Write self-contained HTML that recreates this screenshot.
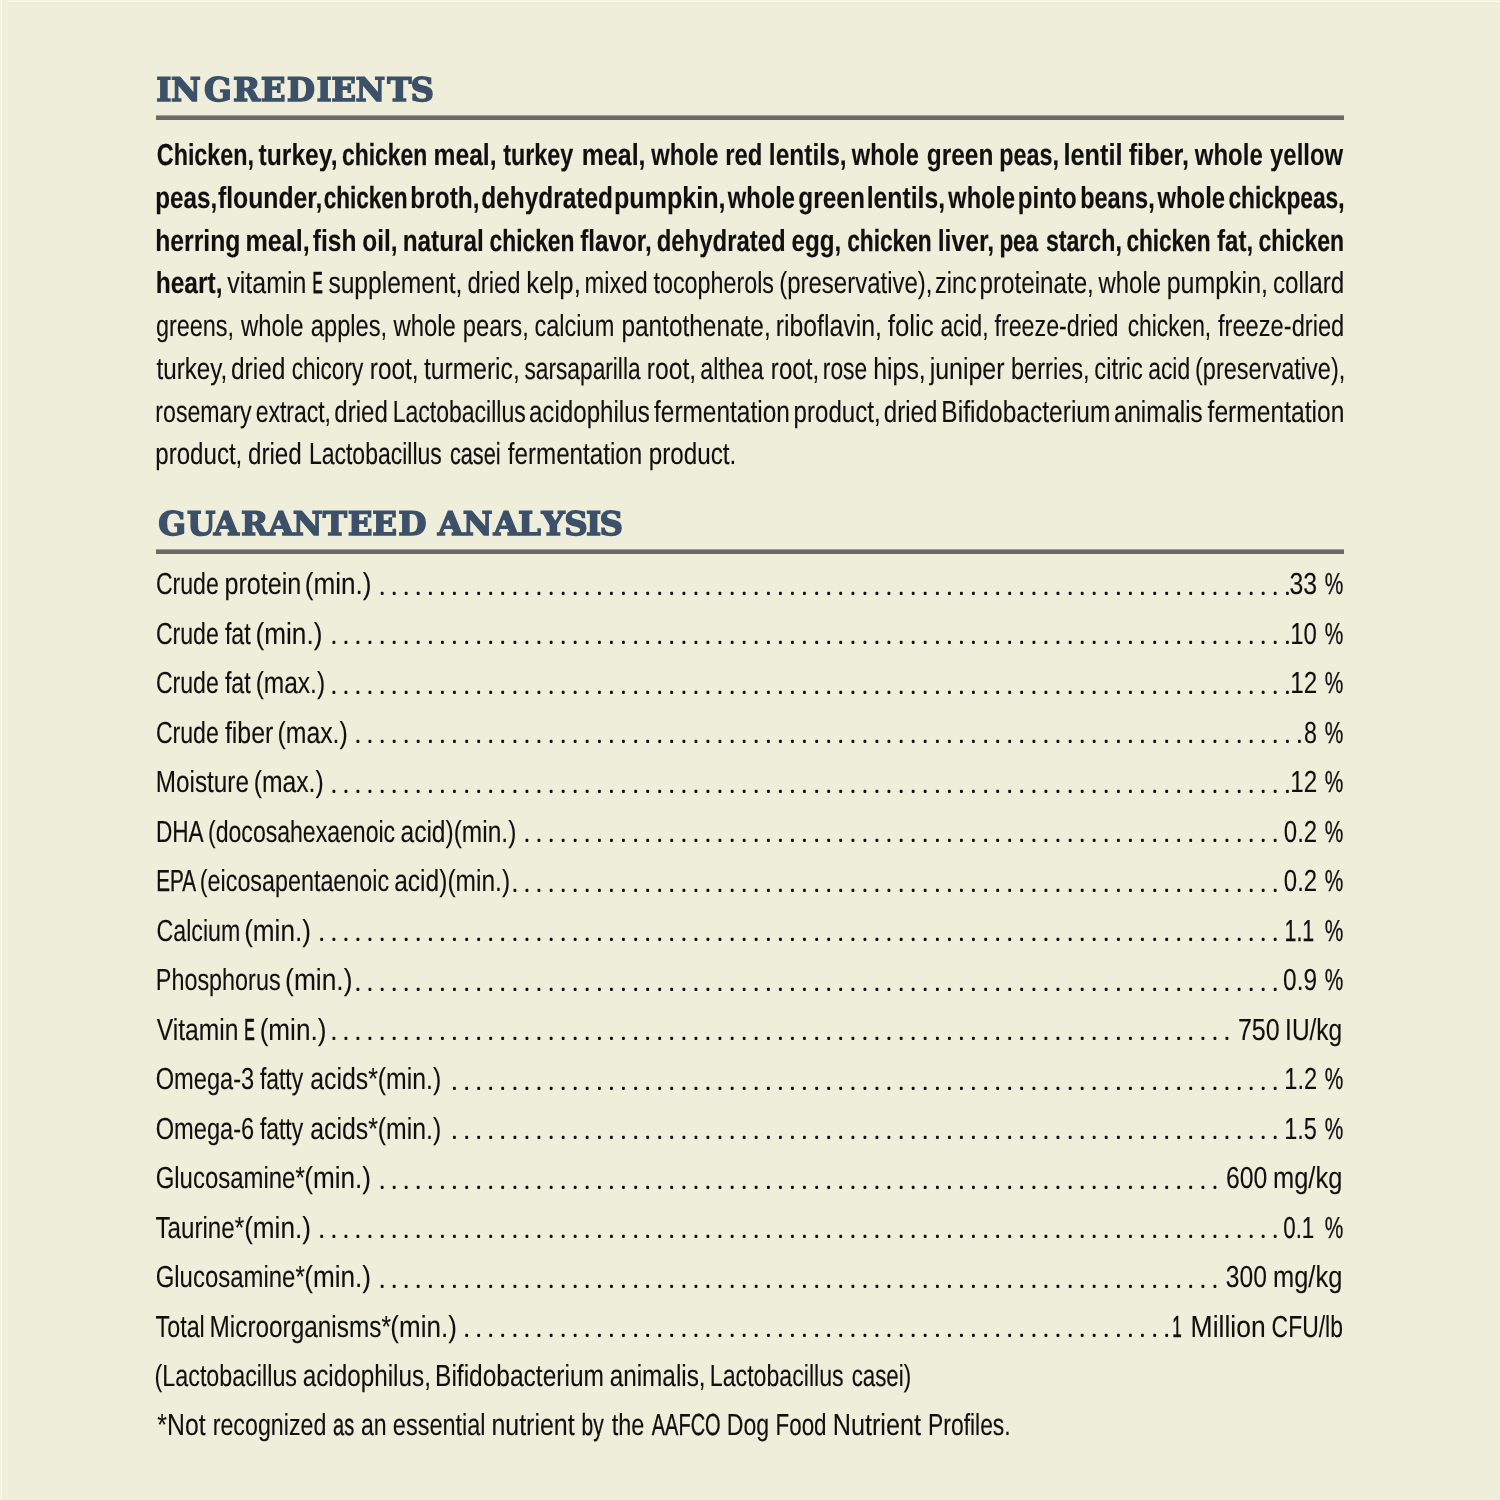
<!DOCTYPE html>
<html lang="en">
<head>
<meta charset="utf-8">
<title>Ingredients &amp; Guaranteed Analysis</title>
<style>
html,body{margin:0;padding:0;background:#efeeda;}
body{width:1500px;height:1500px;overflow:hidden;position:relative;}
svg{position:absolute;left:0;top:0;display:block;}
text{white-space:pre;stroke-linejoin:miter;text-rendering:geometricPrecision;}
.h{font-family:"DejaVu Serif","Liberation Serif",serif;font-weight:700;font-size:32.6px;fill:#3c5169;stroke:#3c5169;stroke-width:1.45px;}
.b{font-family:"Liberation Sans",sans-serif;font-weight:700;font-size:30.4px;fill:#101010;stroke:#101010;stroke-width:0.7px;}
.r{font-family:"Liberation Sans",sans-serif;font-weight:400;font-size:30.4px;fill:#101010;stroke:#101010;stroke-width:0.35px;}
.d{font-family:"Liberation Sans",sans-serif;font-weight:400;font-size:12.0px;fill:#101010;stroke:#101010;stroke-width:1.75px;stroke-linejoin:round;}
</style>
</head>
<body>
<svg width="1500" height="1500" viewBox="0 0 1500 1500">
<rect x="0" y="0" width="1500" height="1500" fill="#efeeda"/>
<rect x="0" y="0" width="1500" height="1" fill="#f2f1de"/><rect x="0" y="1" width="1500" height="1" fill="#fcfbe6"/><rect x="0" y="3" width="1500" height="1" fill="#ebead6"/><rect x="0" y="4" width="1500" height="3" fill="#f1f0dc"/>
<rect x="0" y="0" width="1" height="1500" fill="#f3f2df"/><rect x="1" y="0" width="1" height="1500" fill="#fcfbe6"/><rect x="3" y="0" width="1" height="1500" fill="#ebead6"/><rect x="4" y="0" width="4" height="1500" fill="#f1f0dd"/>
<rect x="156" y="115.4" width="1188" height="4.6" fill="#6b6969"/>
<rect x="156" y="549.4" width="1188" height="4.6" fill="#6b6969"/>
<text class="h" transform="scale(1.0,1)" y="101.10" x="156.36 171.04 203.88 232.99 260.85 286.79 316.56 331.25 355.44 387.25 410.53">INGREDIENTS</text>
<text class="b" y="165.30"><tspan x="156.84" textLength="97.12" lengthAdjust="spacingAndGlyphs" stroke-width="0.20">Chicken,</tspan> <tspan x="258.56" textLength="78.93" lengthAdjust="spacingAndGlyphs" stroke-width="0.12">turkey,</tspan> <tspan x="341.93" textLength="85.47" lengthAdjust="spacingAndGlyphs" stroke-width="0.25">chicken</tspan> <tspan x="433.53" textLength="63.06" lengthAdjust="spacingAndGlyphs" stroke-width="0.12">meal,</tspan> <tspan x="503.21" textLength="70.02" lengthAdjust="spacingAndGlyphs" stroke-width="0.19">turkey</tspan> <tspan x="581.71" textLength="63.79" lengthAdjust="spacingAndGlyphs" stroke-width="0.12">meal,</tspan> <tspan x="651.24" textLength="67.21" lengthAdjust="spacingAndGlyphs" stroke-width="0.14">whole</tspan> <tspan x="725.29" textLength="37.13" lengthAdjust="spacingAndGlyphs" stroke-width="0.12">red</tspan> <tspan x="768.84" textLength="77.84" lengthAdjust="spacingAndGlyphs" stroke-width="0.12">lentils,</tspan> <tspan x="851.84" textLength="66.99" lengthAdjust="spacingAndGlyphs" stroke-width="0.15">whole</tspan> <tspan x="926.76" textLength="66.60" lengthAdjust="spacingAndGlyphs" stroke-width="0.12">green</tspan> <tspan x="999.26" textLength="59.71" lengthAdjust="spacingAndGlyphs" stroke-width="0.19">peas,</tspan> <tspan x="1063.49" textLength="59.15" lengthAdjust="spacingAndGlyphs" stroke-width="0.12">lentil</tspan> <tspan x="1128.73" textLength="60.30" lengthAdjust="spacingAndGlyphs" stroke-width="0.12">fiber,</tspan> <tspan x="1194.83" textLength="67.93" lengthAdjust="spacingAndGlyphs" stroke-width="0.12">whole</tspan> <tspan x="1270.07" textLength="73.02" lengthAdjust="spacingAndGlyphs" stroke-width="0.12">yellow</tspan></text>
<text class="b" y="208.01"><tspan x="155.26" textLength="61.90" lengthAdjust="spacingAndGlyphs" stroke-width="0.12">peas,</tspan> <tspan x="217.94" textLength="104.46" lengthAdjust="spacingAndGlyphs" stroke-width="0.12">flounder,</tspan> <tspan x="323.67" textLength="83.97" lengthAdjust="spacingAndGlyphs" stroke-width="0.31">chicken</tspan> <tspan x="410.35" textLength="69.23" lengthAdjust="spacingAndGlyphs" stroke-width="0.12">broth,</tspan> <tspan x="481.16" textLength="131.80" lengthAdjust="spacingAndGlyphs" stroke-width="0.12">dehydrated</tspan> <tspan x="613.90" textLength="111.72" lengthAdjust="spacingAndGlyphs" stroke-width="0.12">pumpkin,</tspan> <tspan x="727.73" textLength="67.31" lengthAdjust="spacingAndGlyphs" stroke-width="0.13">whole</tspan> <tspan x="798.26" textLength="66.60" lengthAdjust="spacingAndGlyphs" stroke-width="0.12">green</tspan> <tspan x="866.73" textLength="78.36" lengthAdjust="spacingAndGlyphs" stroke-width="0.12">lentils,</tspan> <tspan x="948.35" textLength="66.67" lengthAdjust="spacingAndGlyphs" stroke-width="0.16">whole</tspan> <tspan x="1017.77" textLength="58.91" lengthAdjust="spacingAndGlyphs" stroke-width="0.12">pinto</tspan> <tspan x="1080.13" textLength="74.56" lengthAdjust="spacingAndGlyphs" stroke-width="0.16">beans,</tspan> <tspan x="1157.43" textLength="67.63" lengthAdjust="spacingAndGlyphs" stroke-width="0.12">whole</tspan> <tspan x="1228.45" textLength="116.12" lengthAdjust="spacingAndGlyphs" stroke-width="0.28">chickpeas,</tspan></text>
<text class="b" y="250.72"><tspan x="155.13" textLength="85.27" lengthAdjust="spacingAndGlyphs" stroke-width="0.12">herring</tspan> <tspan x="245.40" textLength="64.22" lengthAdjust="spacingAndGlyphs" stroke-width="0.12">meal,</tspan> <tspan x="312.84" textLength="43.62" lengthAdjust="spacingAndGlyphs" stroke-width="0.12">fish</tspan> <tspan x="362.31" textLength="35.27" lengthAdjust="spacingAndGlyphs" stroke-width="0.12">oil,</tspan> <tspan x="402.66" textLength="81.11" lengthAdjust="spacingAndGlyphs" stroke-width="0.12">natural</tspan> <tspan x="489.54" textLength="84.94" lengthAdjust="spacingAndGlyphs" stroke-width="0.27">chicken</tspan> <tspan x="580.14" textLength="71.62" lengthAdjust="spacingAndGlyphs" stroke-width="0.12">flavor,</tspan> <tspan x="656.68" textLength="129.04" lengthAdjust="spacingAndGlyphs" stroke-width="0.12">dehydrated</tspan> <tspan x="791.51" textLength="49.74" lengthAdjust="spacingAndGlyphs" stroke-width="0.12">egg,</tspan> <tspan x="847.16" textLength="84.51" lengthAdjust="spacingAndGlyphs" stroke-width="0.29">chicken</tspan> <tspan x="937.73" textLength="56.36" lengthAdjust="spacingAndGlyphs" stroke-width="0.12">liver,</tspan> <tspan x="999.38" textLength="38.72" lengthAdjust="spacingAndGlyphs" stroke-width="0.32">pea</tspan> <tspan x="1045.89" textLength="75.95" lengthAdjust="spacingAndGlyphs" stroke-width="0.22">starch,</tspan> <tspan x="1126.47" textLength="83.97" lengthAdjust="spacingAndGlyphs" stroke-width="0.31">chicken</tspan> <tspan x="1217.05" textLength="36.10" lengthAdjust="spacingAndGlyphs" stroke-width="0.12">fat,</tspan> <tspan x="1258.52" textLength="85.58" lengthAdjust="spacingAndGlyphs" stroke-width="0.24">chicken</tspan></text>
<text class="b" y="293.43"><tspan x="155.64" textLength="66.94" lengthAdjust="spacingAndGlyphs" stroke-width="0.12">heart,</tspan></text>
<text class="r" y="293.43"><tspan x="227.37" textLength="78.99" lengthAdjust="spacingAndGlyphs" stroke-width="0.12">vitamin</tspan> <tspan x="312.61" textLength="10.28" lengthAdjust="spacingAndGlyphs" stroke-width="0.75">E</tspan> <tspan x="328.38" textLength="133.97" lengthAdjust="spacingAndGlyphs" stroke-width="0.12">supplement,</tspan> <tspan x="467.46" textLength="53.02" lengthAdjust="spacingAndGlyphs" stroke-width="0.12">dried</tspan> <tspan x="526.32" textLength="54.54" lengthAdjust="spacingAndGlyphs" stroke-width="0.12">kelp,</tspan> <tspan x="584.49" textLength="63.08" lengthAdjust="spacingAndGlyphs" stroke-width="0.12">mixed</tspan> <tspan x="653.51" textLength="120.48" lengthAdjust="spacingAndGlyphs" stroke-width="0.12">tocopherols</tspan> <tspan x="779.17" textLength="153.32" lengthAdjust="spacingAndGlyphs" stroke-width="0.12">(preservative),</tspan> <tspan x="935.01" textLength="41.65" lengthAdjust="spacingAndGlyphs" stroke-width="0.12">zinc</tspan> <tspan x="979.50" textLength="114.31" lengthAdjust="spacingAndGlyphs" stroke-width="0.12">proteinate,</tspan> <tspan x="1098.59" textLength="62.41" lengthAdjust="spacingAndGlyphs" stroke-width="0.12">whole</tspan> <tspan x="1166.65" textLength="101.33" lengthAdjust="spacingAndGlyphs" stroke-width="0.12">pumpkin,</tspan> <tspan x="1273.03" textLength="71.27" lengthAdjust="spacingAndGlyphs" stroke-width="0.12">collard</tspan></text>
<text class="r" y="336.14"><tspan x="155.88" textLength="78.17" lengthAdjust="spacingAndGlyphs" stroke-width="0.12">greens,</tspan> <tspan x="241.09" textLength="62.41" lengthAdjust="spacingAndGlyphs" stroke-width="0.12">whole</tspan> <tspan x="310.85" textLength="76.31" lengthAdjust="spacingAndGlyphs" stroke-width="0.12">apples,</tspan> <tspan x="393.39" textLength="62.41" lengthAdjust="spacingAndGlyphs" stroke-width="0.12">whole</tspan> <tspan x="462.83" textLength="65.94" lengthAdjust="spacingAndGlyphs" stroke-width="0.12">pears,</tspan> <tspan x="534.46" textLength="79.83" lengthAdjust="spacingAndGlyphs" stroke-width="0.12">calcium</tspan> <tspan x="621.39" textLength="149.35" lengthAdjust="spacingAndGlyphs" stroke-width="0.12">pantothenate,</tspan> <tspan x="775.71" textLength="106.26" lengthAdjust="spacingAndGlyphs" stroke-width="0.12">riboflavin,</tspan> <tspan x="887.69" textLength="46.03" lengthAdjust="spacingAndGlyphs" stroke-width="0.12">folic</tspan> <tspan x="940.41" textLength="48.05" lengthAdjust="spacingAndGlyphs" stroke-width="0.16">acid,</tspan> <tspan x="994.43" textLength="124.11" lengthAdjust="spacingAndGlyphs" stroke-width="0.12">freeze-dried</tspan> <tspan x="1127.71" textLength="83.45" lengthAdjust="spacingAndGlyphs" stroke-width="0.16">chicken,</tspan> <tspan x="1218.02" textLength="126.24" lengthAdjust="spacingAndGlyphs" stroke-width="0.12">freeze-dried</tspan></text>
<text class="r" y="378.85"><tspan x="156.49" textLength="70.82" lengthAdjust="spacingAndGlyphs" stroke-width="0.12">turkey,</tspan> <tspan x="231.03" textLength="54.38" lengthAdjust="spacingAndGlyphs" stroke-width="0.12">dried</tspan> <tspan x="291.83" textLength="71.32" lengthAdjust="spacingAndGlyphs" stroke-width="0.18">chicory</tspan> <tspan x="369.84" textLength="48.79" lengthAdjust="spacingAndGlyphs" stroke-width="0.12">root,</tspan> <tspan x="423.89" textLength="95.87" lengthAdjust="spacingAndGlyphs" stroke-width="0.12">turmeric,</tspan> <tspan x="524.45" textLength="116.17" lengthAdjust="spacingAndGlyphs" stroke-width="0.16">sarsaparilla</tspan> <tspan x="646.72" textLength="49.44" lengthAdjust="spacingAndGlyphs" stroke-width="0.12">root,</tspan> <tspan x="700.37" textLength="63.26" lengthAdjust="spacingAndGlyphs" stroke-width="0.12">althea</tspan> <tspan x="770.86" textLength="48.25" lengthAdjust="spacingAndGlyphs" stroke-width="0.12">root,</tspan> <tspan x="822.87" textLength="44.26" lengthAdjust="spacingAndGlyphs" stroke-width="0.16">rose</tspan> <tspan x="873.23" textLength="52.54" lengthAdjust="spacingAndGlyphs" stroke-width="0.12">hips,</tspan> <tspan x="929.67" textLength="74.89" lengthAdjust="spacingAndGlyphs" stroke-width="0.12">juniper</tspan> <tspan x="1010.94" textLength="78.72" lengthAdjust="spacingAndGlyphs" stroke-width="0.12">berries,</tspan> <tspan x="1094.36" textLength="48.51" lengthAdjust="spacingAndGlyphs" stroke-width="0.12">citric</tspan> <tspan x="1148.21" textLength="41.89" lengthAdjust="spacingAndGlyphs" stroke-width="0.15">acid</tspan> <tspan x="1195.00" textLength="150.25" lengthAdjust="spacingAndGlyphs" stroke-width="0.12">(preservative),</tspan></text>
<text class="r" y="421.56"><tspan x="155.33" textLength="96.35" lengthAdjust="spacingAndGlyphs" stroke-width="0.13">rosemary</tspan> <tspan x="255.70" textLength="75.30" lengthAdjust="spacingAndGlyphs" stroke-width="0.14">extract,</tspan> <tspan x="334.35" textLength="53.54" lengthAdjust="spacingAndGlyphs" stroke-width="0.12">dried</tspan> <tspan x="392.78" textLength="132.98" lengthAdjust="spacingAndGlyphs" stroke-width="0.14">Lactobacillus</tspan> <tspan x="528.93" textLength="120.78" lengthAdjust="spacingAndGlyphs" stroke-width="0.12">acidophilus</tspan> <tspan x="654.01" textLength="135.81" lengthAdjust="spacingAndGlyphs" stroke-width="0.12">fermentation</tspan> <tspan x="793.61" textLength="87.00" lengthAdjust="spacingAndGlyphs" stroke-width="0.12">product,</tspan> <tspan x="883.85" textLength="53.54" lengthAdjust="spacingAndGlyphs" stroke-width="0.12">dried</tspan> <tspan x="941.35" textLength="169.11" lengthAdjust="spacingAndGlyphs" stroke-width="0.12">Bifidobacterium</tspan> <tspan x="1113.93" textLength="88.78" lengthAdjust="spacingAndGlyphs" stroke-width="0.12">animalis</tspan> <tspan x="1207.61" textLength="136.73" lengthAdjust="spacingAndGlyphs" stroke-width="0.12">fermentation</tspan></text>
<text class="r" y="464.27"><tspan x="155.31" textLength="87.00" lengthAdjust="spacingAndGlyphs" stroke-width="0.12">product,</tspan> <tspan x="247.94" textLength="53.86" lengthAdjust="spacingAndGlyphs" stroke-width="0.12">dried</tspan> <tspan x="308.88" textLength="132.98" lengthAdjust="spacingAndGlyphs" stroke-width="0.14">Lactobacillus</tspan> <tspan x="449.90" textLength="50.74" lengthAdjust="spacingAndGlyphs" stroke-width="0.25">casei</tspan> <tspan x="507.82" textLength="134.39" lengthAdjust="spacingAndGlyphs" stroke-width="0.12">fermentation</tspan> <tspan x="648.70" textLength="87.56" lengthAdjust="spacingAndGlyphs" stroke-width="0.12">product.</tspan></text>
<text class="h" transform="scale(1.0,1)" y="535.30" x="158.28 186.99 213.70 240.99 268.30 292.64 322.85 347.65 372.25 398.19">GUARANTEED</text>
<text class="h" transform="scale(1.0,1)" y="535.30" x="437.70 462.64 493.50 517.93 541.56 564.33 585.96 599.53">ANALYSIS</text>
<text class="r" y="594.15"><tspan x="155.89" textLength="62.86" lengthAdjust="spacingAndGlyphs" stroke-width="0.13">Crude</tspan> <tspan x="224.44" textLength="76.94" lengthAdjust="spacingAndGlyphs" stroke-width="0.12">protein</tspan> <tspan x="304.74" textLength="66.82" lengthAdjust="spacingAndGlyphs" stroke-width="0.12">(min.)</tspan> <tspan x="1289.41" textLength="27.62" lengthAdjust="spacingAndGlyphs" stroke-width="0.12">33</tspan> <tspan x="1324.71" textLength="18.57" lengthAdjust="spacingAndGlyphs" stroke-width="0.32">%</tspan></text>
<text class="d" x="380.41 392.48 404.55 416.62 428.69 440.76 452.83 464.90 476.97 489.04 501.11 513.18 525.25 537.32 549.39 561.46 573.53 585.60 597.67 609.74 621.81 633.88 645.95 658.02 670.09 682.16 694.23 706.30 718.37 730.44 742.51 754.58 766.65 778.72 790.79 802.86 814.93 827.00 839.07 851.14 863.21 875.28 887.35 899.42 911.49 923.56 935.63 947.70 959.77 971.84 983.91 995.98 1008.05 1020.12 1032.19 1044.26 1056.33 1068.40 1080.47 1092.54 1104.61 1116.68 1128.75 1140.82 1152.89 1164.96 1177.03 1189.10 1201.17 1213.24 1225.31 1237.38 1249.45 1261.52 1273.59 1285.66" y="594.00">............................................................................</text>
<text class="r" y="643.64"><tspan x="155.89" textLength="62.86" lengthAdjust="spacingAndGlyphs" stroke-width="0.13">Crude</tspan> <tspan x="224.93" textLength="25.77" lengthAdjust="spacingAndGlyphs" stroke-width="0.13">fat</tspan> <tspan x="255.54" textLength="66.82" lengthAdjust="spacingAndGlyphs" stroke-width="0.12">(min.)</tspan> <tspan x="1290.24" textLength="26.64" lengthAdjust="spacingAndGlyphs" stroke-width="0.12">10</tspan> <tspan x="1324.71" textLength="18.57" lengthAdjust="spacingAndGlyphs" stroke-width="0.32">%</tspan></text>
<text class="d" x="332.13 344.20 356.27 368.34 380.41 392.48 404.55 416.62 428.69 440.76 452.83 464.90 476.97 489.04 501.11 513.18 525.25 537.32 549.39 561.46 573.53 585.60 597.67 609.74 621.81 633.88 645.95 658.02 670.09 682.16 694.23 706.30 718.37 730.44 742.51 754.58 766.65 778.72 790.79 802.86 814.93 827.00 839.07 851.14 863.21 875.28 887.35 899.42 911.49 923.56 935.63 947.70 959.77 971.84 983.91 995.98 1008.05 1020.12 1032.19 1044.26 1056.33 1068.40 1080.47 1092.54 1104.61 1116.68 1128.75 1140.82 1152.89 1164.96 1177.03 1189.10 1201.17 1213.24 1225.31 1237.38 1249.45 1261.52 1273.59 1285.66" y="643.49">................................................................................</text>
<text class="r" y="693.13"><tspan x="155.89" textLength="62.86" lengthAdjust="spacingAndGlyphs" stroke-width="0.13">Crude</tspan> <tspan x="224.93" textLength="25.77" lengthAdjust="spacingAndGlyphs" stroke-width="0.13">fat</tspan> <tspan x="255.64" textLength="69.42" lengthAdjust="spacingAndGlyphs" stroke-width="0.12">(max.)</tspan> <tspan x="1290.21" textLength="26.94" lengthAdjust="spacingAndGlyphs" stroke-width="0.12">12</tspan> <tspan x="1324.71" textLength="18.57" lengthAdjust="spacingAndGlyphs" stroke-width="0.32">%</tspan></text>
<text class="d" x="332.13 344.20 356.27 368.34 380.41 392.48 404.55 416.62 428.69 440.76 452.83 464.90 476.97 489.04 501.11 513.18 525.25 537.32 549.39 561.46 573.53 585.60 597.67 609.74 621.81 633.88 645.95 658.02 670.09 682.16 694.23 706.30 718.37 730.44 742.51 754.58 766.65 778.72 790.79 802.86 814.93 827.00 839.07 851.14 863.21 875.28 887.35 899.42 911.49 923.56 935.63 947.70 959.77 971.84 983.91 995.98 1008.05 1020.12 1032.19 1044.26 1056.33 1068.40 1080.47 1092.54 1104.61 1116.68 1128.75 1140.82 1152.89 1164.96 1177.03 1189.10 1201.17 1213.24 1225.31 1237.38 1249.45 1261.52 1273.59 1285.66" y="692.98">................................................................................</text>
<text class="r" y="742.62"><tspan x="155.89" textLength="62.86" lengthAdjust="spacingAndGlyphs" stroke-width="0.13">Crude</tspan> <tspan x="224.91" textLength="48.45" lengthAdjust="spacingAndGlyphs" stroke-width="0.12">fiber</tspan> <tspan x="277.52" textLength="70.26" lengthAdjust="spacingAndGlyphs" stroke-width="0.12">(max.)</tspan> <tspan x="1304.06" textLength="12.89" lengthAdjust="spacingAndGlyphs" stroke-width="0.13">8</tspan> <tspan x="1324.71" textLength="18.57" lengthAdjust="spacingAndGlyphs" stroke-width="0.32">%</tspan></text>
<text class="d" x="356.27 368.34 380.41 392.48 404.55 416.62 428.69 440.76 452.83 464.90 476.97 489.04 501.11 513.18 525.25 537.32 549.39 561.46 573.53 585.60 597.67 609.74 621.81 633.88 645.95 658.02 670.09 682.16 694.23 706.30 718.37 730.44 742.51 754.58 766.65 778.72 790.79 802.86 814.93 827.00 839.07 851.14 863.21 875.28 887.35 899.42 911.49 923.56 935.63 947.70 959.77 971.84 983.91 995.98 1008.05 1020.12 1032.19 1044.26 1056.33 1068.40 1080.47 1092.54 1104.61 1116.68 1128.75 1140.82 1152.89 1164.96 1177.03 1189.10 1201.17 1213.24 1225.31 1237.38 1249.45 1261.52 1273.59 1285.66 1297.73" y="742.47">...............................................................................</text>
<text class="r" y="792.11"><tspan x="155.77" textLength="93.15" lengthAdjust="spacingAndGlyphs" stroke-width="0.12">Moisture</tspan> <tspan x="253.73" textLength="69.94" lengthAdjust="spacingAndGlyphs" stroke-width="0.12">(max.)</tspan> <tspan x="1290.21" textLength="26.94" lengthAdjust="spacingAndGlyphs" stroke-width="0.12">12</tspan> <tspan x="1324.71" textLength="18.57" lengthAdjust="spacingAndGlyphs" stroke-width="0.32">%</tspan></text>
<text class="d" x="332.13 344.20 356.27 368.34 380.41 392.48 404.55 416.62 428.69 440.76 452.83 464.90 476.97 489.04 501.11 513.18 525.25 537.32 549.39 561.46 573.53 585.60 597.67 609.74 621.81 633.88 645.95 658.02 670.09 682.16 694.23 706.30 718.37 730.44 742.51 754.58 766.65 778.72 790.79 802.86 814.93 827.00 839.07 851.14 863.21 875.28 887.35 899.42 911.49 923.56 935.63 947.70 959.77 971.84 983.91 995.98 1008.05 1020.12 1032.19 1044.26 1056.33 1068.40 1080.47 1092.54 1104.61 1116.68 1128.75 1140.82 1152.89 1164.96 1177.03 1189.10 1201.17 1213.24 1225.31 1237.38 1249.45 1261.52 1273.59 1285.66" y="791.96">................................................................................</text>
<text class="r" y="841.60"><tspan x="156.01" textLength="46.42" lengthAdjust="spacingAndGlyphs" stroke-width="0.22">DHA</tspan> <tspan x="208.04" textLength="187.10" lengthAdjust="spacingAndGlyphs" stroke-width="0.14">(docosahexaenoic</tspan> <tspan x="400.52" textLength="115.84" lengthAdjust="spacingAndGlyphs" stroke-width="0.12">acid)(min.)</tspan> <tspan x="1283.82" textLength="33.32" lengthAdjust="spacingAndGlyphs" stroke-width="0.12">0.2</tspan> <tspan x="1324.71" textLength="18.57" lengthAdjust="spacingAndGlyphs" stroke-width="0.32">%</tspan></text>
<text class="d" x="525.25 537.32 549.39 561.46 573.53 585.60 597.67 609.74 621.81 633.88 645.95 658.02 670.09 682.16 694.23 706.30 718.37 730.44 742.51 754.58 766.65 778.72 790.79 802.86 814.93 827.00 839.07 851.14 863.21 875.28 887.35 899.42 911.49 923.56 935.63 947.70 959.77 971.84 983.91 995.98 1008.05 1020.12 1032.19 1044.26 1056.33 1068.40 1080.47 1092.54 1104.61 1116.68 1128.75 1140.82 1152.89 1164.96 1177.03 1189.10 1201.17 1213.24 1225.31 1237.38 1249.45 1261.52 1273.59" y="841.45">...............................................................</text>
<text class="r" y="891.09"><tspan x="156.24" textLength="38.71" lengthAdjust="spacingAndGlyphs" stroke-width="0.38">EPA</tspan> <tspan x="199.81" textLength="189.34" lengthAdjust="spacingAndGlyphs" stroke-width="0.12">(eicosapentaenoic</tspan> <tspan x="394.22" textLength="115.84" lengthAdjust="spacingAndGlyphs" stroke-width="0.12">acid)(min.)</tspan> <tspan x="1283.82" textLength="33.32" lengthAdjust="spacingAndGlyphs" stroke-width="0.12">0.2</tspan> <tspan x="1324.71" textLength="18.57" lengthAdjust="spacingAndGlyphs" stroke-width="0.32">%</tspan></text>
<text class="d" x="513.18 525.25 537.32 549.39 561.46 573.53 585.60 597.67 609.74 621.81 633.88 645.95 658.02 670.09 682.16 694.23 706.30 718.37 730.44 742.51 754.58 766.65 778.72 790.79 802.86 814.93 827.00 839.07 851.14 863.21 875.28 887.35 899.42 911.49 923.56 935.63 947.70 959.77 971.84 983.91 995.98 1008.05 1020.12 1032.19 1044.26 1056.33 1068.40 1080.47 1092.54 1104.61 1116.68 1128.75 1140.82 1152.89 1164.96 1177.03 1189.10 1201.17 1213.24 1225.31 1237.38 1249.45 1261.52 1273.59" y="890.94">................................................................</text>
<text class="r" y="940.58"><tspan x="156.59" textLength="83.68" lengthAdjust="spacingAndGlyphs" stroke-width="0.13">Calcium</tspan> <tspan x="244.14" textLength="66.82" lengthAdjust="spacingAndGlyphs" stroke-width="0.12">(min.)</tspan> <tspan x="1284.51" textLength="29.69" lengthAdjust="spacingAndGlyphs" stroke-width="0.28">1.1</tspan> <tspan x="1324.71" textLength="18.57" lengthAdjust="spacingAndGlyphs" stroke-width="0.32">%</tspan></text>
<text class="d" x="320.06 332.13 344.20 356.27 368.34 380.41 392.48 404.55 416.62 428.69 440.76 452.83 464.90 476.97 489.04 501.11 513.18 525.25 537.32 549.39 561.46 573.53 585.60 597.67 609.74 621.81 633.88 645.95 658.02 670.09 682.16 694.23 706.30 718.37 730.44 742.51 754.58 766.65 778.72 790.79 802.86 814.93 827.00 839.07 851.14 863.21 875.28 887.35 899.42 911.49 923.56 935.63 947.70 959.77 971.84 983.91 995.98 1008.05 1020.12 1032.19 1044.26 1056.33 1068.40 1080.47 1092.54 1104.61 1116.68 1128.75 1140.82 1152.89 1164.96 1177.03 1189.10 1201.17 1213.24 1225.31 1237.38 1249.45 1261.52 1273.59" y="940.43">................................................................................</text>
<text class="r" y="990.07"><tspan x="155.84" textLength="124.74" lengthAdjust="spacingAndGlyphs" stroke-width="0.12">Phosphorus</tspan> <tspan x="285.12" textLength="67.35" lengthAdjust="spacingAndGlyphs" stroke-width="0.12">(min.)</tspan> <tspan x="1283.10" textLength="33.99" lengthAdjust="spacingAndGlyphs" stroke-width="0.12">0.9</tspan> <tspan x="1324.71" textLength="18.57" lengthAdjust="spacingAndGlyphs" stroke-width="0.32">%</tspan></text>
<text class="d" x="356.27 368.34 380.41 392.48 404.55 416.62 428.69 440.76 452.83 464.90 476.97 489.04 501.11 513.18 525.25 537.32 549.39 561.46 573.53 585.60 597.67 609.74 621.81 633.88 645.95 658.02 670.09 682.16 694.23 706.30 718.37 730.44 742.51 754.58 766.65 778.72 790.79 802.86 814.93 827.00 839.07 851.14 863.21 875.28 887.35 899.42 911.49 923.56 935.63 947.70 959.77 971.84 983.91 995.98 1008.05 1020.12 1032.19 1044.26 1056.33 1068.40 1080.47 1092.54 1104.61 1116.68 1128.75 1140.82 1152.89 1164.96 1177.03 1189.10 1201.17 1213.24 1225.31 1237.38 1249.45 1261.52 1273.59" y="989.92">.............................................................................</text>
<text class="r" y="1039.56"><tspan x="156.75" textLength="81.69" lengthAdjust="spacingAndGlyphs" stroke-width="0.12">Vitamin</tspan> <tspan x="244.17" textLength="10.54" lengthAdjust="spacingAndGlyphs" stroke-width="0.74">E</tspan> <tspan x="259.64" textLength="66.82" lengthAdjust="spacingAndGlyphs" stroke-width="0.12">(min.)</tspan> <tspan x="1237.88" textLength="41.74" lengthAdjust="spacingAndGlyphs" stroke-width="0.12">750</tspan> <tspan x="1285.10" textLength="57.12" lengthAdjust="spacingAndGlyphs" stroke-width="0.12">IU/kg</tspan></text>
<text class="d" x="332.13 344.20 356.27 368.34 380.41 392.48 404.55 416.62 428.69 440.76 452.83 464.90 476.97 489.04 501.11 513.18 525.25 537.32 549.39 561.46 573.53 585.60 597.67 609.74 621.81 633.88 645.95 658.02 670.09 682.16 694.23 706.30 718.37 730.44 742.51 754.58 766.65 778.72 790.79 802.86 814.93 827.00 839.07 851.14 863.21 875.28 887.35 899.42 911.49 923.56 935.63 947.70 959.77 971.84 983.91 995.98 1008.05 1020.12 1032.19 1044.26 1056.33 1068.40 1080.47 1092.54 1104.61 1116.68 1128.75 1140.82 1152.89 1164.96 1177.03 1189.10 1201.17 1213.24 1225.31" y="1039.41">...........................................................................</text>
<text class="r" y="1089.05"><tspan x="155.74" textLength="98.54" lengthAdjust="spacingAndGlyphs" stroke-width="0.12">Omega-3</tspan> <tspan x="259.95" textLength="43.11" lengthAdjust="spacingAndGlyphs" stroke-width="0.16">fatty</tspan> <tspan x="310.31" textLength="130.87" lengthAdjust="spacingAndGlyphs" stroke-width="0.12">acids*(min.)</tspan> <tspan x="1284.26" textLength="32.87" lengthAdjust="spacingAndGlyphs" stroke-width="0.12">1.2</tspan> <tspan x="1324.71" textLength="18.57" lengthAdjust="spacingAndGlyphs" stroke-width="0.32">%</tspan></text>
<text class="d" x="452.83 464.90 476.97 489.04 501.11 513.18 525.25 537.32 549.39 561.46 573.53 585.60 597.67 609.74 621.81 633.88 645.95 658.02 670.09 682.16 694.23 706.30 718.37 730.44 742.51 754.58 766.65 778.72 790.79 802.86 814.93 827.00 839.07 851.14 863.21 875.28 887.35 899.42 911.49 923.56 935.63 947.70 959.77 971.84 983.91 995.98 1008.05 1020.12 1032.19 1044.26 1056.33 1068.40 1080.47 1092.54 1104.61 1116.68 1128.75 1140.82 1152.89 1164.96 1177.03 1189.10 1201.17 1213.24 1225.31 1237.38 1249.45 1261.52 1273.59" y="1088.90">.....................................................................</text>
<text class="r" y="1138.54"><tspan x="155.74" textLength="98.54" lengthAdjust="spacingAndGlyphs" stroke-width="0.12">Omega-6</tspan> <tspan x="259.95" textLength="43.11" lengthAdjust="spacingAndGlyphs" stroke-width="0.16">fatty</tspan> <tspan x="310.31" textLength="130.87" lengthAdjust="spacingAndGlyphs" stroke-width="0.12">acids*(min.)</tspan> <tspan x="1284.27" textLength="32.66" lengthAdjust="spacingAndGlyphs" stroke-width="0.12">1.5</tspan> <tspan x="1324.71" textLength="18.57" lengthAdjust="spacingAndGlyphs" stroke-width="0.32">%</tspan></text>
<text class="d" x="452.83 464.90 476.97 489.04 501.11 513.18 525.25 537.32 549.39 561.46 573.53 585.60 597.67 609.74 621.81 633.88 645.95 658.02 670.09 682.16 694.23 706.30 718.37 730.44 742.51 754.58 766.65 778.72 790.79 802.86 814.93 827.00 839.07 851.14 863.21 875.28 887.35 899.42 911.49 923.56 935.63 947.70 959.77 971.84 983.91 995.98 1008.05 1020.12 1032.19 1044.26 1056.33 1068.40 1080.47 1092.54 1104.61 1116.68 1128.75 1140.82 1152.89 1164.96 1177.03 1189.10 1201.17 1213.24 1225.31 1237.38 1249.45 1261.52 1273.59" y="1138.39">.....................................................................</text>
<text class="r" y="1188.03"><tspan x="155.66" textLength="149.06" lengthAdjust="spacingAndGlyphs" stroke-width="0.12">Glucosamine*</tspan> <tspan x="304.24" textLength="66.82" lengthAdjust="spacingAndGlyphs" stroke-width="0.12">(min.)</tspan> <tspan x="1225.90" textLength="41.30" lengthAdjust="spacingAndGlyphs" stroke-width="0.12">600</tspan> <tspan x="1273.07" textLength="69.21" lengthAdjust="spacingAndGlyphs" stroke-width="0.12">mg/kg</tspan></text>
<text class="d" x="380.41 392.48 404.55 416.62 428.69 440.76 452.83 464.90 476.97 489.04 501.11 513.18 525.25 537.32 549.39 561.46 573.53 585.60 597.67 609.74 621.81 633.88 645.95 658.02 670.09 682.16 694.23 706.30 718.37 730.44 742.51 754.58 766.65 778.72 790.79 802.86 814.93 827.00 839.07 851.14 863.21 875.28 887.35 899.42 911.49 923.56 935.63 947.70 959.77 971.84 983.91 995.98 1008.05 1020.12 1032.19 1044.26 1056.33 1068.40 1080.47 1092.54 1104.61 1116.68 1128.75 1140.82 1152.89 1164.96 1177.03 1189.10 1201.17 1213.24" y="1187.88">......................................................................</text>
<text class="r" y="1237.52"><tspan x="155.52" textLength="88.60" lengthAdjust="spacingAndGlyphs" stroke-width="0.12">Taurine*</tspan> <tspan x="244.14" textLength="66.82" lengthAdjust="spacingAndGlyphs" stroke-width="0.12">(min.)</tspan> <tspan x="1283.22" textLength="31.07" lengthAdjust="spacingAndGlyphs" stroke-width="0.19">0.1</tspan> <tspan x="1324.71" textLength="18.57" lengthAdjust="spacingAndGlyphs" stroke-width="0.32">%</tspan></text>
<text class="d" x="320.06 332.13 344.20 356.27 368.34 380.41 392.48 404.55 416.62 428.69 440.76 452.83 464.90 476.97 489.04 501.11 513.18 525.25 537.32 549.39 561.46 573.53 585.60 597.67 609.74 621.81 633.88 645.95 658.02 670.09 682.16 694.23 706.30 718.37 730.44 742.51 754.58 766.65 778.72 790.79 802.86 814.93 827.00 839.07 851.14 863.21 875.28 887.35 899.42 911.49 923.56 935.63 947.70 959.77 971.84 983.91 995.98 1008.05 1020.12 1032.19 1044.26 1056.33 1068.40 1080.47 1092.54 1104.61 1116.68 1128.75 1140.82 1152.89 1164.96 1177.03 1189.10 1201.17 1213.24 1225.31 1237.38 1249.45 1261.52 1273.59" y="1237.37">................................................................................</text>
<text class="r" y="1287.01"><tspan x="155.66" textLength="149.06" lengthAdjust="spacingAndGlyphs" stroke-width="0.12">Glucosamine*</tspan> <tspan x="304.24" textLength="66.82" lengthAdjust="spacingAndGlyphs" stroke-width="0.12">(min.)</tspan> <tspan x="1225.82" textLength="41.08" lengthAdjust="spacingAndGlyphs" stroke-width="0.12">300</tspan> <tspan x="1273.07" textLength="69.21" lengthAdjust="spacingAndGlyphs" stroke-width="0.12">mg/kg</tspan></text>
<text class="d" x="380.41 392.48 404.55 416.62 428.69 440.76 452.83 464.90 476.97 489.04 501.11 513.18 525.25 537.32 549.39 561.46 573.53 585.60 597.67 609.74 621.81 633.88 645.95 658.02 670.09 682.16 694.23 706.30 718.37 730.44 742.51 754.58 766.65 778.72 790.79 802.86 814.93 827.00 839.07 851.14 863.21 875.28 887.35 899.42 911.49 923.56 935.63 947.70 959.77 971.84 983.91 995.98 1008.05 1020.12 1032.19 1044.26 1056.33 1068.40 1080.47 1092.54 1104.61 1116.68 1128.75 1140.82 1152.89 1164.96 1177.03 1189.10 1201.17 1213.24" y="1286.86">......................................................................</text>
<text class="r" y="1336.50"><tspan x="155.54" textLength="49.26" lengthAdjust="spacingAndGlyphs" stroke-width="0.12">Total</tspan> <tspan x="209.56" textLength="181.36" lengthAdjust="spacingAndGlyphs" stroke-width="0.12">Microorganisms*</tspan> <tspan x="390.35" textLength="66.51" lengthAdjust="spacingAndGlyphs" stroke-width="0.12">(min.)</tspan> <tspan x="1172.31" textLength="9.51" lengthAdjust="spacingAndGlyphs" stroke-width="0.63">1</tspan> <tspan x="1190.59" textLength="75.07" lengthAdjust="spacingAndGlyphs" stroke-width="0.12">Million</tspan> <tspan x="1271.61" textLength="71.28" lengthAdjust="spacingAndGlyphs" stroke-width="0.15">CFU/lb</tspan></text>
<text class="d" x="464.90 476.97 489.04 501.11 513.18 525.25 537.32 549.39 561.46 573.53 585.60 597.67 609.74 621.81 633.88 645.95 658.02 670.09 682.16 694.23 706.30 718.37 730.44 742.51 754.58 766.65 778.72 790.79 802.86 814.93 827.00 839.07 851.14 863.21 875.28 887.35 899.42 911.49 923.56 935.63 947.70 959.77 971.84 983.91 995.98 1008.05 1020.12 1032.19 1044.26 1056.33 1068.40 1080.47 1092.54 1104.61 1116.68 1128.75 1140.82 1152.89 1164.96" y="1336.35">...........................................................</text>
<text class="r" y="1385.99"><tspan x="154.62" textLength="142.37" lengthAdjust="spacingAndGlyphs" stroke-width="0.12">(Lactobacillus</tspan> <tspan x="302.63" textLength="128.30" lengthAdjust="spacingAndGlyphs" stroke-width="0.12">acidophilus,</tspan> <tspan x="435.05" textLength="168.91" lengthAdjust="spacingAndGlyphs" stroke-width="0.12">Bifidobacterium</tspan> <tspan x="609.63" textLength="96.00" lengthAdjust="spacingAndGlyphs" stroke-width="0.12">animalis,</tspan> <tspan x="709.86" textLength="133.81" lengthAdjust="spacingAndGlyphs" stroke-width="0.13">Lactobacillus</tspan> <tspan x="851.65" textLength="59.54" lengthAdjust="spacingAndGlyphs" stroke-width="0.20">casei)</tspan></text>
<text class="r" y="1435.48"><tspan x="157.36" textLength="48.26" lengthAdjust="spacingAndGlyphs" stroke-width="0.12">*Not</tspan> <tspan x="212.72" textLength="113.62" lengthAdjust="spacingAndGlyphs" stroke-width="0.12">recognized</tspan> <tspan x="333.05" textLength="21.08" lengthAdjust="spacingAndGlyphs" stroke-width="0.39">as</tspan> <tspan x="360.89" textLength="25.64" lengthAdjust="spacingAndGlyphs" stroke-width="0.14">an</tspan> <tspan x="392.86" textLength="92.65" lengthAdjust="spacingAndGlyphs" stroke-width="0.12">essential</tspan> <tspan x="491.40" textLength="83.22" lengthAdjust="spacingAndGlyphs" stroke-width="0.12">nutrient</tspan> <tspan x="581.50" textLength="22.19" lengthAdjust="spacingAndGlyphs" stroke-width="0.31">by</tspan> <tspan x="611.70" textLength="32.68" lengthAdjust="spacingAndGlyphs" stroke-width="0.12">the</tspan> <tspan x="651.76" textLength="68.91" lengthAdjust="spacingAndGlyphs" stroke-width="0.39">AAFCO</tspan> <tspan x="726.87" textLength="42.35" lengthAdjust="spacingAndGlyphs" stroke-width="0.13">Dog</tspan> <tspan x="775.56" textLength="50.98" lengthAdjust="spacingAndGlyphs" stroke-width="0.19">Food</tspan> <tspan x="832.69" textLength="88.23" lengthAdjust="spacingAndGlyphs" stroke-width="0.12">Nutrient</tspan> <tspan x="928.10" textLength="82.51" lengthAdjust="spacingAndGlyphs" stroke-width="0.15">Profiles.</tspan></text>
</svg>
</body>
</html>
